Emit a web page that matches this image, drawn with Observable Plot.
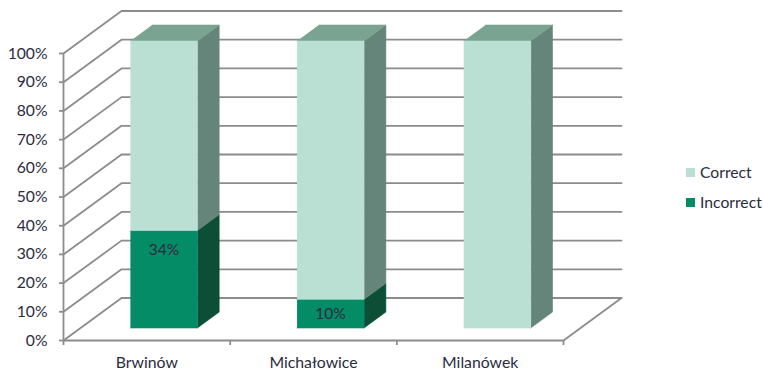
<!DOCTYPE html>
<html>
<head>
<meta charset="utf-8">
<script src="https://cdn.jsdelivr.net/npm/d3@7"></script>
<script src="https://cdn.jsdelivr.net/npm/@observablehq/plot@0.6"></script>
<style>
  html, body { margin: 0; padding: 0; background: #fff; }
  #chart { position: relative; width: 763px; height: 371px; font-family: Lato, sans-serif; color: #2b2b40; }
  #chart svg { display: block; overflow: visible; }
  .legend { position: absolute; left: 686px; top: 157px; font-size: 15.7px; line-height: 30px; }
  .legend div { display: flex; align-items: center; }
  .legend i { width: 9px; height: 9px; margin-right: 5px; }
</style>
</head>
<body>
<div id="chart"></div>
<script>
// Share of answers per municipality, in percent
const categories = ["Brwinów", "Michałowice", "Milanówek"];
const incorrect = [34, 10, 0];
const correct = [66, 90, 100];
const yTicks = [0, 10, 20, 30, 40, 50, 60, 70, 80, 90, 100];

// Oblique projection: one unit of depth shifts a point right and up, in data units
const depthX = 0.348;
const depthY = 14.8;
const barWidth = 0.402;
const barFront = 0.294;
const barDepth = 0.376;

const project = (x, y, d) => ({x: x + d * depthX, y: y + d * depthY});

const colors = {
  wall: "#8c8c8c",
  correctFront: "#b9e0d3",
  correctSide: "#66857a",
  correctTop: "#7ba391",
  incorrectFront: "#048c66",
  incorrectSide: "#0c4f36",
  text: "#2b2b40"
};

// Wall and floor lines: each gridline runs from the front axis to the back wall and across it
const wallLines = yTicks.flatMap((t) => [
  {id: t, ...project(0, t, 0)},
  {id: t, ...project(0, t, 1)},
  {id: t, ...project(3, t, 1)}
]);
const floorEdge = [project(3, 0, 0), project(3, 0, 1)];

// Faces of one stacked segment, as closed polygons
function faces(from, to) {
  const front = [], side = [], top = [];
  categories.forEach((c, i) => {
    const lo = from[i], hi = to[i];
    if (hi <= lo) return;
    const l = i + 0.5 - barWidth / 2, r = i + 0.5 + barWidth / 2;
    const d0 = barFront, d1 = barFront + barDepth;
    front.push(...[[l, lo, d0], [r, lo, d0], [r, hi, d0], [l, hi, d0]].map(([x, y, d]) => ({id: c, ...project(x, y, d)})));
    side.push(...[[r, lo, d0], [r, lo, d1], [r, hi, d1], [r, hi, d0]].map(([x, y, d]) => ({id: c, ...project(x, y, d)})));
    top.push(...[[l, hi, d0], [r, hi, d0], [r, hi, d1], [l, hi, d1]].map(([x, y, d]) => ({id: c, ...project(x, y, d)})));
  });
  return {front, side, top};
}

const polygon = (rows, color) =>
  Plot.line(rows, {x: "x", y: "y", z: "id", fill: color, stroke: color, strokeWidth: 0.6});

const zeros = categories.map(() => 0);
const lower = faces(zeros, incorrect);
const upper = faces(incorrect, incorrect.map((v, i) => v + correct[i]));

// Value labels sit a little under the segment top, or mid-segment when it is short
const labels = categories
  .map((c, i) => ({c, i, v: incorrect[i]}))
  .filter((d) => d.v > 0)
  .map((d) => ({
    ...project(d.i + 0.5, d.v - Math.min(d.v / 2, 7), barFront),
    text: d.v + "%"
  }));

const plot = Plot.plot({
  width: 763,
  height: 371,
  marginLeft: 63,
  marginRight: 200,
  marginTop: 53,
  marginBottom: 31,
  style: {fontFamily: "Lato, sans-serif", background: "transparent", overflow: "visible"},
  x: {domain: [0, 3], range: [63, 563], axis: null},
  y: {domain: [0, 100], range: [340, 53], axis: null},
  marks: [
    Plot.line(wallLines, {x: "x", y: "y", z: "id", stroke: colors.wall, strokeWidth: 1.8}),
    Plot.line(floorEdge, {x: "x", y: "y", stroke: colors.wall, strokeWidth: 1.8}),
    Plot.ruleX([0], {y1: 0, y2: 100, stroke: colors.wall, strokeWidth: 1.8}),
    Plot.ruleY([0], {x1: 0, x2: 3, stroke: colors.wall, strokeWidth: 1.8}),
    Plot.axisY({
      ticks: yTicks, tickFormat: (d) => d + "%", tickSize: 4, tickPadding: 12,
      stroke: colors.wall, strokeWidth: 1.8, fill: colors.text, fontSize: 15.7, label: null
    }),
    Plot.axisX({
      ticks: [0, 1, 2, 3], tickFormat: () => "", tickSize: 5,
      stroke: colors.wall, strokeWidth: 1.8, label: null
    }),
    Plot.axisX({
      ticks: [0.5, 1.5, 2.5], tickFormat: (d) => categories[Math.floor(d)], tickSize: 0, tickPadding: 16,
      fill: colors.text, fontSize: 15.8, label: null
    }),
    polygon(lower.side, colors.incorrectSide),
    polygon(lower.front, colors.incorrectFront),
    polygon(upper.side, colors.correctSide),
    polygon(upper.top, colors.correctTop),
    polygon(upper.front, colors.correctFront),
    Plot.text(labels, {x: "x", y: "y", text: "text", fill: colors.text, fontSize: 15.5})
  ]
});

const chart = document.getElementById("chart");
chart.append(plot);

// Legend to the right of the plot
const legend = document.createElement("div");
legend.className = "legend";
[["Correct", colors.correctFront], ["Incorrect", colors.incorrectFront]].forEach(([name, color]) => {
  const row = document.createElement("div");
  const swatch = document.createElement("i");
  swatch.style.background = color;
  row.append(swatch, name);
  legend.append(row);
});
chart.append(legend);
</script>
</body>
</html>
